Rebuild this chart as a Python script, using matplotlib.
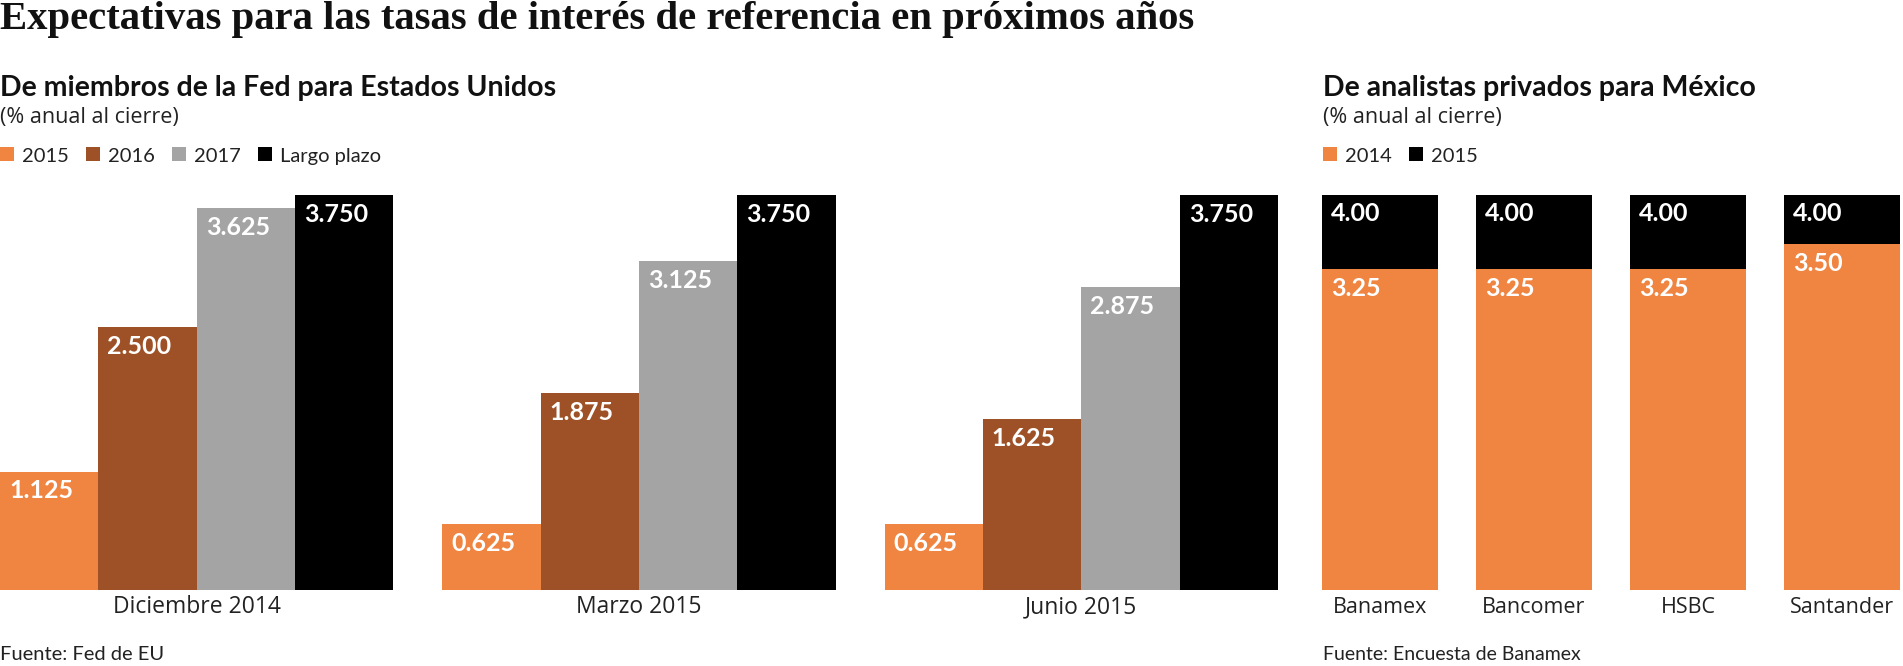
import matplotlib
matplotlib.use('Agg')
import matplotlib.pyplot as plt
from matplotlib.patches import Rectangle
import numpy as np

# ---------------- data ----------------
fed_periods = ['Diciembre 2014', 'Marzo 2015', 'Junio 2015']
fed_series = ['2015', '2016', '2017', 'Largo plazo']
fed_2015 = [1.125, 0.625, 0.625]
fed_2016 = [2.500, 1.875, 1.625]
fed_2017 = [3.625, 3.125, 2.875]
fed_largo = [3.750, 3.750, 3.750]

mx_banks = ['Banamex', 'Bancomer', 'HSBC', 'Santander']
mx_series = ['2014', '2015']
mx_2014 = [3.25, 3.25, 3.25, 3.50]
mx_2015 = [4.00, 4.00, 4.00, 4.00]

title = 'Expectativas para las tasas de interés de referencia en próximos años'
fed_sub = 'De miembros de la Fed para Estados Unidos'
mx_sub = 'De analistas privados para México'
unit = '(% anual al cierre)'
fed_src = 'Fuente: Fed de EU'
mx_src = 'Fuente: Encuesta de Banamex'

# ---------------- style ----------------
ORANGE = '#F08542'
BROWN = '#9E5126'
GRAY = '#A4A4A4'
BLACK = '#000000'
fed_colors = [ORANGE, BROWN, GRAY, BLACK]
mx_colors = [ORANGE, BLACK]

W, H, DPI = 1903, 666, 100
SANS = ['Lato', 'DejaVu Sans']
SANS2 = ['Open Sans', 'DejaVu Sans']

fig = plt.figure(figsize=(W / DPI, H / DPI), dpi=DPI)
fig.patch.set_facecolor('white')


def fx(x):
    return x / W


def fy(y):
    return 1 - y / H


BASE = 590
TOP = 195

# ---------------- Fed panel ----------------
bw = 0.2224
ax1 = fig.add_axes([0, fy(BASE), 1278 / W, (BASE - TOP) / H])
xc = np.arange(len(fed_periods))
fed_vals = [fed_2015, fed_2016, fed_2017, fed_largo]
for i, (vals, col) in enumerate(zip(fed_vals, fed_colors)):
    bars = ax1.bar(xc + (i - 1.5) * bw, vals, width=bw, color=col, linewidth=0)
    for rect, v in zip(bars, vals):
        ax1.annotate(f'{v:.3f}', xy=(rect.get_x(), v), xytext=(9, -27),
                     textcoords='offset pixels', ha='left', va='baseline',
                     color='white', fontsize=18, fontweight='bold', family=SANS)
for c, lab in zip(xc, fed_periods):
    ax1.annotate(lab, xy=(c, 0), xycoords=('data', 'axes fraction'),
                 xytext=(0, -23), textcoords='offset pixels', ha='center',
                 va='baseline', fontsize=16.5, family=SANS2, color='#222222')
ax1.set_xlim(-2 * bw, 2 + 2 * bw)
ax1.set_ylim(0, 3.75)
ax1.axis('off')

# ---------------- Mexico panel ----------------
mw = 0.753
ax2 = fig.add_axes([1322 / W, fy(BASE), 1 - 1322 / W, (BASE - TOP) / H])
xm = np.arange(len(mx_banks))
b15 = ax2.bar(xm, mx_2015, width=mw, color=BLACK, linewidth=0)
b14 = ax2.bar(xm, mx_2014, width=mw, color=ORANGE, linewidth=0)
for bars, vals, dy in ((b15, mx_2015, -26), (b14, mx_2014, -27)):
    for rect, v in zip(bars, vals):
        ax2.annotate(f'{v:.2f}', xy=(rect.get_x(), v), xytext=(9, dy),
                     textcoords='offset pixels', ha='left', va='baseline',
                     color='white', fontsize=18, fontweight='bold', family=SANS)
for c, lab in zip(xm, mx_banks):
    ax2.annotate(lab, xy=(c, 0), xycoords=('data', 'axes fraction'),
                 xytext=(0, -23), textcoords='offset pixels', ha='center',
                 va='baseline', fontsize=15.5, family=SANS2, color='#222222')
ax2.set_xlim(-mw / 2, -mw / 2 + (W - 1322) / 154)
ax2.set_ylim(0, 4.0)
ax2.axis('off')

# ---------------- texts ----------------
fig.text(fx(0), fy(29), title, fontsize=29.3, fontweight='bold',
         family=['Liberation Serif', 'DejaVu Serif'], va='baseline', ha='left', color='#111111')

for x0, sub in ((0, fed_sub), (1323, mx_sub)):
    fig.text(fx(x0), fy(96), sub, fontsize=20.5, fontweight='bold', family=SANS,
             va='baseline', ha='left', color='#111111')
    fig.text(fx(x0), fy(123), unit, fontsize=15.5, family=SANS2, va='baseline',
             ha='left', color='#222222')

fig.text(fx(0), fy(660), fed_src, fontsize=14.5, family=SANS, va='baseline', ha='left', color='#222222')
fig.text(fx(1323), fy(660), mx_src, fontsize=14, family=SANS, va='baseline', ha='left', color='#222222')

# legends (laid out from measured text widths)
fig.canvas.draw()
renderer = fig.canvas.get_renderer()


def legend(x0, names, colors):
    x = x0
    for name, col in zip(names, colors):
        fig.patches.append(Rectangle((fx(x), fy(161)), 14 / W, 14 / H,
                                     transform=fig.transFigure, facecolor=col,
                                     edgecolor='none'))
        t = fig.text(fx(x + 22), fy(162), name, fontsize=14.5, family=SANS,
                     va='baseline', ha='left', color='#222222')
        w = t.get_window_extent(renderer).width
        x = x + 22 + w + 17


legend(0, fed_series, fed_colors)
legend(1323, mx_series, mx_colors)

fig.savefig('out.png', dpi=DPI, facecolor='white')
